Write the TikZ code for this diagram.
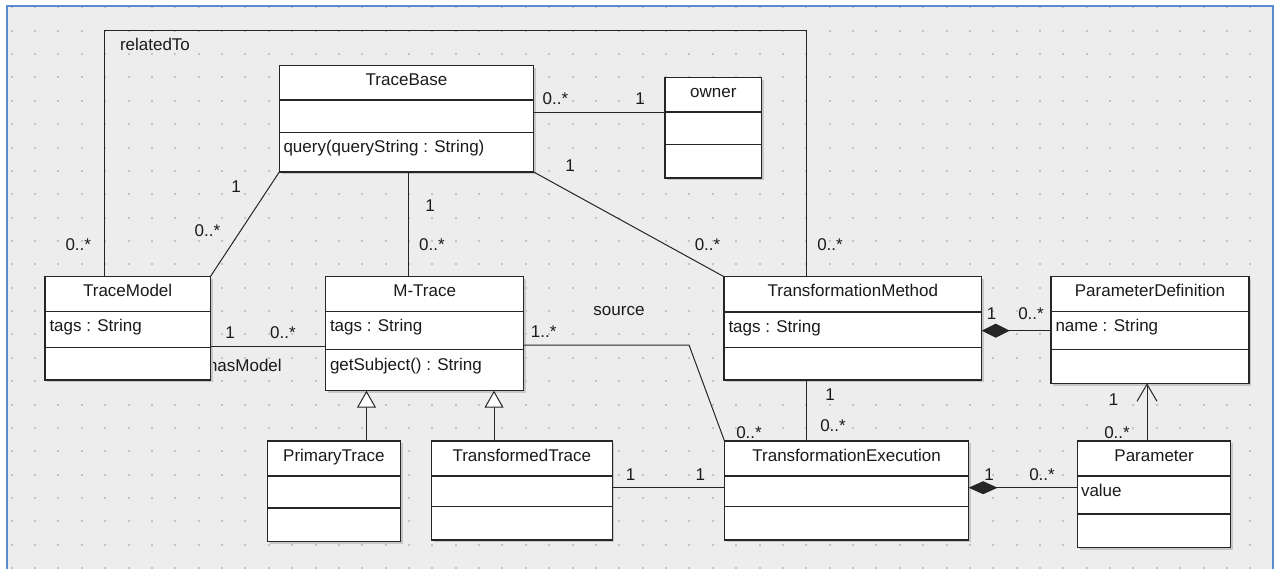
\documentclass[tikz,border=0pt]{standalone}
\usepackage{fontspec}
\setmainfont{Liberation Sans}
\usetikzlibrary{arrows.meta}
\definecolor{bgcol}{HTML}{EDEDED}
\definecolor{dotcol}{HTML}{C4C4C4}
\definecolor{framecol}{HTML}{5A8AD0}
\definecolor{linecol}{HTML}{262626}
\definecolor{txtcol}{HTML}{1A1A1A}
\newcommand{\umlclass}[8]{%
  \pgfmathsetmacro{\umlw}{#4-#2}\pgfmathsetmacro{\umlh}{#5-#3}%
  \fill[black!22] (#2+2.2,#3+2.2) rectangle (#4+2.2,#5+2.2);
  \node[classbox, minimum width=\umlw pt, minimum height=\umlh pt, anchor=north west] (#1) at (#2,#3) {};
  \coordinate (#1-d1) at (0,#6);
  \coordinate (#1-d2) at (0,#7);
  \draw[classline] (#1.west |- #1-d1) -- (#1.east |- #1-d1);
  \draw[classline] (#1.west |- #1-d2) -- (#1.east |- #1-d2);
  \node[lbl] (#1-t) at ({(#2+#4)/2},#3+20) {#8};
}
\begin{document}
\begin{tikzpicture}[x=1pt,y=-1pt,
  font=\fontsize{17}{20}\selectfont,
  every node/.style={inner sep=0pt, outer sep=0pt},
  classbox/.style={draw=linecol, line width=1.3pt, fill=white, rectangle},
  classline/.style={draw=linecol, line width=1.2pt},
  assoc/.style={draw=linecol, line width=1pt},
  lbl/.style={anchor=base, text=txtcol},
  lblw/.style={anchor=base west, text=txtcol}]
\useasboundingbox (0,0) rectangle (1276,568);
\clip (0,0) rectangle (1276,568);
\fill[white] (0,0) rectangle (1276,568);
\fill[bgcol] (6.5,5.5) rectangle (1272.5,580);
\foreach \i in {0,...,53} {
  \foreach \j in {0,...,24} {
    \fill[dotcol] ({11.7+23.37*\i-1},{7.3+23.37*\j-1}) rectangle ++(2,2);
  }
}
\draw[framecol, line width=2pt] (6.5,580) -- (6.5,5.5) -- (1272.5,5.5) -- (1272.5,580);

\node[lblw] (hasModel) at (208,371.7) {hasModel};

\umlclass{TraceBase}{279.3}{65.3}{533.7}{172}{100}{132.7}{TraceBase}
\umlclass{owner}{665}{77.3}{761.7}{178}{112}{144.7}{owner}
\umlclass{TraceModel}{45}{276.7}{210.3}{380}{311.7}{347.3}{TraceModel}
\umlclass{MTrace}{325.7}{276.7}{523.7}{390.7}{311.7}{349.3}{M-Trace}
\umlclass{TM}{724}{276.7}{981.7}{380}{312}{347.7}{TransformationMethod}
\umlclass{PD}{1051}{276.7}{1249}{383.3}{311.7}{349.3}{ParameterDefinition}
\umlclass{PT}{267.3}{441}{400.4}{541.7}{476}{508}{PrimaryTrace}
\umlclass{TT}{431.4}{441}{612.2}{540}{476}{506.7}{TransformedTrace}
\umlclass{TE}{724.5}{441}{968.6}{540}{476}{506.7}{TransformationExecution}
\umlclass{Param}{1077.6}{441}{1230.6}{547.3}{476}{514}{Parameter}

\node[lblw] (TraceBase-o) at (283.5,152.7) {query(queryString : String)};
\node[lblw] (TraceModel-a) at (49.5,331.5) {tags : String};
\node[lblw] (MTrace-a) at (330,331.5) {tags : String};
\node[lblw] (MTrace-o) at (330,370) {getSubject() : String};
\node[lblw] (TM-a) at (728.5,332) {tags : String};
\node[lblw] (PD-a) at (1055.5,331.5) {name : String};
\node[lblw] (Param-a) at (1081,496) {value};

% connectors
\coordinate (rt1) at (104,30);
\coordinate (rt2) at (806,30);
\draw[assoc] (TraceModel.north -| rt1) -- (rt1) -- (rt2) -- (TM.north -| rt2);
\coordinate (yTO) at (0,112.7);
\draw[assoc] (TraceBase.east |- yTO) -- (owner.west |- yTO);
\draw[assoc] (TraceBase.south west) -- (TraceModel.north east);
\coordinate (xTBM) at (408,0);
\draw[assoc] (TraceBase.south -| xTBM) -- (MTrace.north -| xTBM);
\draw[assoc] (TraceBase.south east) -- (TM.north west);
\coordinate (yHM) at (0,346.7);
\draw[assoc] (TraceModel.east |- yHM) -- (MTrace.west |- yHM);
\coordinate (src) at (689,345);
\draw[assoc] (MTrace.east |- src) -- (src) -- (TE.north west);
\coordinate (xTMTE) at (806,0);
\draw[assoc] (TM.south -| xTMTE) -- (TE.north -| xTMTE);
\coordinate (yComp) at (0,330.7);
\draw[assoc, -{Diamond[length=28pt,width=14pt]}] (PD.west |- yComp) -- (TM.east |- yComp);
\coordinate (yRow) at (0,487.7);
\draw[assoc] (TT.east |- yRow) -- (TE.west |- yRow);
\draw[assoc, -{Diamond[length=29pt,width=13pt]}] (Param.west |- yRow) -- (TE.east |- yRow);
\coordinate (xPT) at (366.5,0);
\draw[assoc, -{Triangle[open,fill=white,length=17pt,width=19pt]}] (PT.north -| xPT) -- (MTrace.south -| xPT);
\coordinate (xTT) at (494,0);
\draw[assoc, -{Triangle[open,fill=white,length=17pt,width=19pt]}] (TT.north -| xTT) -- (MTrace.south -| xTT);
\coordinate (xPar) at (1147,0);
\draw[assoc, -{Straight Barb[length=17pt,width=20pt]}] (Param.north -| xPar) -- (PD.south -| xPar);

% labels
\node[lblw] (relatedTo) at (120,50) {relatedTo};
\node[lbl] (m1) at (555.5,104) {0..*};
\node[lbl] (m2) at (640,104) {1};
\node[lbl] (m3) at (570,171.7) {1};
\node[lbl] (m4) at (236,192.7) {1};
\node[lbl] (m5) at (78.3,250) {0..*};
\node[lbl] (m6) at (207.5,236.7) {0..*};
\node[lbl] (m7) at (230,338.3) {1};
\node[lbl] (m8) at (283,338.3) {0..*};
\node[lbl] (m9) at (430,211) {1};
\node[lbl] (m10) at (432,250) {0..*};
\node[lbl] (m11) at (707.5,250) {0..*};
\node[lbl] (source) at (619,315) {source};
\node[lbl] (m12) at (543.7,337.3) {1..*};
\node[lbl] (m13) at (830,250) {0..*};
\node[lbl] (m14) at (991.7,319.3) {1};
\node[lbl] (m15) at (1031,319.3) {0..*};
\node[lbl] (m16) at (830,400) {1};
\node[lbl] (m17) at (749,438.3) {0..*};
\node[lbl] (m18) at (833,431.7) {0..*};
\node[lbl] (m19) at (630.6,480) {1};
\node[lbl] (m20) at (700.4,480) {1};
\node[lbl] (m21) at (989,480) {1};
\node[lbl] (m22) at (1042,480) {0..*};
\node[lbl] (m23) at (1113.5,405) {1};
\node[lbl] (m24) at (1117,438.3) {0..*};
\end{tikzpicture}
\end{document}
